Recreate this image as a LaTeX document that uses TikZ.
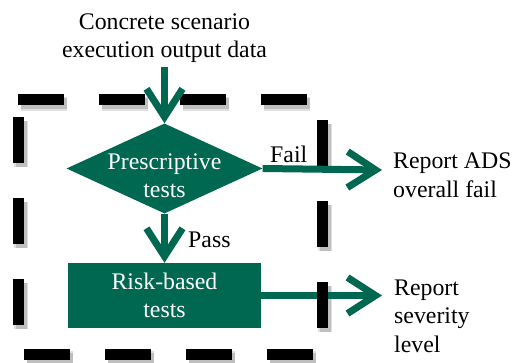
\documentclass[tikz,border=0pt]{standalone}
\usepackage{fontspec}
\setmainfont{Liberation Serif}
\usetikzlibrary{shapes.geometric,arrows.meta}
\definecolor{dgreen}{RGB}{0,104,80}
\begin{document}
\begin{tikzpicture}[x=1pt,y=-1pt,
  txt/.style={inner sep=0pt, font=\fontsize{23.8}{28.5}\selectfont, align=center},
  conn/.style={draw=dgreen, line width=7pt, -{Straight Barb[length=28pt,width=36pt]}},
  frame/.style={line width=11pt, dash pattern=on 46pt off 35pt},
]
\useasboundingbox (0,0) rectangle (513,363);
% frame shadow
\draw[frame, draw=black, opacity=0.12, line width=14pt] (21,104) -- (325,104) -- (325,358) -- (21,358) -- cycle;
\draw[frame, draw=black, opacity=0.15] (21,104) -- (325,104) -- (325,358) -- (21,358) -- cycle;
% nodes
\node[txt, anchor=base] (src) at (164.5,58) {Concrete scenario\\execution output data};
\node[diamond, fill=dgreen, inner sep=0pt, minimum width=196pt, minimum height=90pt,
      label={[txt, text=white, yshift=-7pt]center:Prescriptive\\tests}] (pres) at (164.5,168.5) {};
\node[txt, fill=dgreen, text=white, minimum width=193pt, minimum height=65pt] (risk) at (164.5,295.5) {Risk-based\\tests};
\coordinate (failend) at (382,170);
\coordinate (sevend) at (382,295.5);
\node[txt, align=left, anchor=base west] (ads) at (393,197) {Report ADS\\overall fail};
\node[txt, align=left, anchor=base west] (sev) at (394,352) {Report\\severity\\level};
\node[txt, anchor=base west] (faill) at (270,163) {Fail};
\node[txt, anchor=base west] (passl) at (188,247) {Pass};
% lower arrow under the frame
\draw[conn] (risk.east) -- (sevend);
% frame
\draw[frame] (18,100) -- (322,100) -- (322,354) -- (18,354) -- cycle;
% other arrows
\draw[conn] (src.south) ++(0,4) coordinate (srcb) (srcb) -- (pres.north);
\draw[conn] (pres.east) -- (failend);
\draw[conn] (pres.south) -- (risk.north);
\end{tikzpicture}
\end{document}
